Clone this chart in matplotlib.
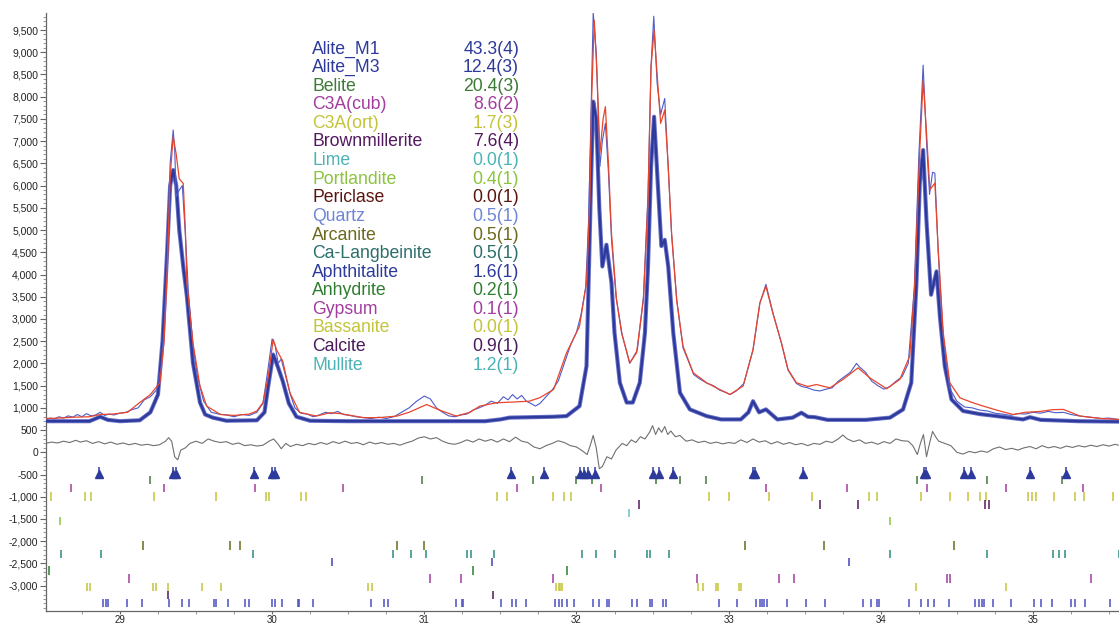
import matplotlib
matplotlib.use('Agg')
import matplotlib.pyplot as plt
from matplotlib.ticker import MultipleLocator, FixedLocator, FuncFormatter

plt.rcParams['font.family'] = ['Liberation Sans', 'DejaVu Sans']

# ---- curves (2theta, counts) ----
obs_x = [28.51, 28.54, 28.57, 28.60, 28.63, 28.66, 28.69, 28.72, 28.75, 28.78, 28.81, 28.84, 28.87, 28.90,
         28.93, 28.96, 29.00, 29.04, 29.08, 29.12, 29.16, 29.20, 29.24, 29.27, 29.29, 29.31, 29.33, 29.35,
         29.36, 29.37, 29.39, 29.41, 29.43, 29.45, 29.48, 29.51, 29.55, 29.60, 29.65, 29.70, 29.75, 29.80,
         29.85, 29.90, 29.94, 29.97, 30.00, 30.02, 30.04, 30.06, 30.09, 30.12, 30.15, 30.19, 30.23, 30.27,
         30.31, 30.35, 30.39, 30.43, 30.47, 30.51, 30.55, 30.60, 30.65, 30.70, 30.75, 30.80, 30.85, 30.90,
         30.95, 31.00, 31.04, 31.08, 31.12, 31.16, 31.20, 31.24, 31.28, 31.32, 31.36, 31.40, 31.44, 31.48,
         31.52, 31.55, 31.58, 31.61, 31.64, 31.67, 31.70, 31.73, 31.76, 31.80, 31.84, 31.88, 31.92, 31.96,
         32.00, 32.03, 32.06, 32.08, 32.095, 32.11, 32.13, 32.154, 32.17, 32.19, 32.21, 32.23, 32.26, 32.30,
         32.35, 32.40, 32.44, 32.47, 32.49, 32.508, 32.53, 32.553, 32.58, 32.60, 32.625, 32.66, 32.70, 32.73,
         32.77, 32.81, 32.86, 32.90, 32.94, 32.98, 33.01, 33.05, 33.10, 33.16, 33.205, 33.245, 33.29, 33.347,
         33.39, 33.445, 33.48, 33.52, 33.56, 33.60, 33.64, 33.68, 33.72, 33.76, 33.80, 33.84, 33.86, 33.90,
         33.94, 33.98, 34.02, 34.06, 34.10, 34.14, 34.18, 34.22, 34.25, 34.278, 34.30, 34.32, 34.34, 34.355,
         34.377, 34.41, 34.45, 34.50, 34.55, 34.60, 34.65, 34.70, 34.75, 34.80, 34.85, 34.90, 34.95, 35.00,
         35.05, 35.10, 35.15, 35.20, 35.25, 35.30, 35.35, 35.40, 35.45, 35.50, 35.56]
obs_y = [720, 770, 750, 800, 770, 820, 790, 850, 800, 870, 820, 840, 900, 830,
         860, 840, 880, 900, 960, 1000, 1180, 1250, 1400, 1900, 2800, 4300, 6500, 7250,
         6800, 5750, 5900, 6000, 4900, 3600, 2400, 1700, 1150, 900, 860, 840, 800, 850,
         830, 900, 1100, 1800, 2550, 2400, 2000, 2100, 1700, 1300, 1000, 880, 860, 800,
         840, 900, 870, 920, 850, 830, 800, 780, 760, 790, 760, 800, 900, 1000,
         1150, 1265, 1200, 1000, 900, 820, 800, 840, 860, 950, 1000, 1060, 1150, 1100,
         1250, 1180, 1300, 1200, 1280, 1150, 1100, 1040, 1100, 1250, 1400, 1600, 2000, 2400,
         2700, 3100, 3700, 5200, 7500, 9890, 9000, 6430, 7000, 7400, 6300, 4800, 3500, 2650,
         2000, 2300, 3500, 5800, 8700, 9810, 8300, 7600, 7960, 6600, 4900, 3400, 2350, 2100,
         1750, 1650, 1550, 1500, 1400, 1350, 1300, 1380, 1550, 2300, 3350, 3780, 3150, 2450,
         1850, 1550, 1480, 1450, 1400, 1380, 1420, 1450, 1600, 1700, 1800, 2000, 1920, 1800,
         1600, 1500, 1420, 1480, 1600, 1700, 2000, 3700, 6700, 8710, 7000, 5800, 6300, 6280,
         4500, 2600, 1450, 1150, 1020, 1000, 950, 930, 880, 860, 830, 870, 860, 900,
         880, 920, 890, 900, 850, 820, 800, 780, 760, 770, 740]

calc_x = [28.51, 28.60, 28.70, 28.80, 28.87, 28.95, 29.05, 29.13, 29.20, 29.263, 29.29, 29.31, 29.33, 29.35,
          29.37, 29.39, 29.416, 29.43, 29.44, 29.48, 29.526, 29.57, 29.66, 29.75, 29.85, 29.90, 29.94, 29.975,
          30.007, 30.03, 30.07, 30.117, 30.18, 30.29, 30.38, 30.45, 30.60, 30.70, 30.82, 30.90, 31.015, 31.10,
          31.21, 31.30, 31.365, 31.475, 31.58, 31.69, 31.76, 31.85, 31.935, 32.02, 32.066, 32.088, 32.10, 32.117,
          32.135, 32.154, 32.175, 32.19, 32.21, 32.23, 32.263, 32.296, 32.35, 32.395, 32.44, 32.47, 32.49, 32.51,
          32.53, 32.553, 32.58, 32.603, 32.625, 32.658, 32.70, 32.767, 32.855, 32.94, 33.008, 33.095, 33.16, 33.205,
          33.245, 33.29, 33.347, 33.39, 33.445, 33.52, 33.577, 33.665, 33.752, 33.85, 33.928, 34.038, 34.125, 34.19,
          34.223, 34.256, 34.278, 34.30, 34.322, 34.355, 34.377, 34.41, 34.453, 34.52, 34.60, 34.673, 34.77, 34.87,
          34.95, 35.05, 35.13, 35.20, 35.31, 35.45, 35.56]
calc_y = [760, 770, 790, 800, 850, 860, 900, 1120, 1300, 1565, 2500, 4000, 6200, 7100,
          6700, 6150, 6050, 5000, 3800, 2460, 1490, 1040, 850, 830, 860, 930, 1120, 1710,
          2540, 2300, 2050, 1340, 900, 815, 890, 870, 780, 780, 815, 900, 1075, 950,
          815, 900, 1040, 1115, 1130, 1150, 1230, 1415, 2240, 2835, 3815, 5680, 8000, 9720,
          8500, 6730, 7500, 7775, 6500, 4935, 3435, 2690, 2010, 2240, 3435, 5680, 8670, 9500,
          8500, 7400, 7700, 6430, 4935, 3435, 2390, 1790, 1565, 1415, 1300, 1490, 2310, 3360,
          3735, 3135, 2460, 1865, 1565, 1480, 1525, 1450, 1640, 1900, 1675, 1430, 1640, 2165,
          3810, 6800, 8375, 7200, 5905, 6055, 4560, 2690, 1565, 1225, 1120, 1040, 940, 850,
          900, 920, 960, 965, 815, 760, 740]

alite_x = [28.51, 28.80, 28.87, 28.92, 29.00, 29.13, 29.20, 29.25, 29.28, 29.31, 29.33, 29.35, 29.37, 29.39,
           29.416, 29.44, 29.48, 29.526, 29.56, 29.61, 29.70, 29.90, 29.95, 29.975, 30.007, 30.04, 30.07, 30.11,
           30.16, 30.25, 30.50, 31.00, 31.40, 31.50, 31.56, 31.70, 31.85, 31.935, 32.02, 32.066, 32.077, 32.095,
           32.11, 32.13, 32.15, 32.17, 32.197, 32.215, 32.23, 32.25, 32.285, 32.33, 32.37, 32.416, 32.45, 32.47,
           32.49, 32.51, 32.535, 32.558, 32.58, 32.603, 32.636, 32.68, 32.745, 32.855, 32.95, 33.08, 33.13, 33.16,
           33.20, 33.245, 33.32, 33.42, 33.478, 33.52, 33.567, 33.65, 33.90, 34.06, 34.146, 34.20, 34.234, 34.256,
           34.278, 34.30, 34.33, 34.366, 34.388, 34.42, 34.464, 34.54, 34.65, 34.76, 34.935, 34.98, 35.05, 35.30,
           35.56]
alite_y = [700, 700, 800, 730, 700, 720, 900, 1300, 2500, 4500, 6000, 6350, 6000, 5000,
           4180, 3510, 2010, 1120, 850, 780, 710, 720, 900, 1500, 2200, 1900, 1600, 1100,
           800, 710, 700, 700, 700, 740, 780, 790, 800, 815, 1040, 1940, 3435, 6000,
           7890, 7500, 5500, 4180, 4670, 4200, 3815, 2690, 1565, 1120, 1120, 1565, 2690, 4180,
           6430, 7550, 6000, 4640, 4780, 4180, 2690, 1340, 965, 815, 740, 740, 900, 1150,
           900, 965, 740, 780, 890, 800, 790, 730, 730, 780, 965, 1565, 3810, 6055,
           6800, 5200, 3545, 4070, 3060, 1940, 1190, 930, 860, 815, 740, 790, 730, 700,
           690]

diff_x = [28.51, 28.55, 28.59, 28.63, 28.67, 28.71, 28.74, 28.78, 28.82, 28.86, 28.90, 28.94, 28.98, 29.02,
          29.06, 29.10, 29.14, 29.18, 29.22, 29.26, 29.30, 29.32, 29.34, 29.36, 29.38, 29.40, 29.43, 29.46,
          29.50, 29.54, 29.58, 29.62, 29.66, 29.70, 29.74, 29.78, 29.82, 29.86, 29.90, 29.94, 29.98, 30.01,
          30.04, 30.06, 30.09, 30.12, 30.16, 30.20, 30.24, 30.28, 30.32, 30.36, 30.40, 30.44, 30.48, 30.52,
          30.56, 30.60, 30.64, 30.68, 30.72, 30.76, 30.80, 30.84, 30.88, 30.92, 30.96, 31.00, 31.04, 31.08,
          31.12, 31.16, 31.20, 31.24, 31.28, 31.32, 31.36, 31.40, 31.44, 31.48, 31.52, 31.56, 31.60, 31.64,
          31.68, 31.72, 31.76, 31.80, 31.84, 31.88, 31.92, 31.96, 32.00, 32.04, 32.07, 32.09, 32.11, 32.13,
          32.15, 32.17, 32.20, 32.23, 32.26, 32.30, 32.33, 32.36, 32.39, 32.42, 32.45, 32.48, 32.50, 32.52,
          32.54, 32.56, 32.58, 32.60, 32.62, 32.65, 32.68, 32.72, 32.76, 32.80, 32.84, 32.88, 32.92, 32.96,
          33.00, 33.04, 33.08, 33.12, 33.16, 33.20, 33.24, 33.28, 33.32, 33.36, 33.40, 33.44, 33.48, 33.52,
          33.56, 33.60, 33.64, 33.68, 33.72, 33.75, 33.78, 33.82, 33.86, 33.90, 33.94, 33.98, 34.02, 34.06,
          34.10, 34.14, 34.18, 34.21, 34.24, 34.26, 34.28, 34.30, 34.32, 34.34, 34.36, 34.38, 34.42, 34.46,
          34.50, 34.54, 34.58, 34.62, 34.66, 34.70, 34.74, 34.78, 34.82, 34.86, 34.90, 34.94, 34.98, 35.02,
          35.06, 35.10, 35.14, 35.18, 35.22, 35.26, 35.30, 35.34, 35.38, 35.42, 35.46, 35.50, 35.54, 35.56]
diff_y = [200, 230, 210, 250, 220, 270, 230, 260, 200, 240, 190, 230, 180, 210,
          170, 200, 160, 180, 150, 170, 250, 330, 250, -100, -170, 50, 100, 200,
          250, 200, 300, 250, 220, 240, 180, 210, 150, 170, 140, 160, 250, 300,
          180, 80, 200, 130, 180, 150, 200, 170, 220, 180, 240, 200, 250, 200,
          220, 170, 230, 190, 220, 180, 200, 160, 210, 250, 320, 350, 300, 330,
          250, 200, 180, 220, 280, 230, 300, 250, 290, 230, 300, 240, 340, 250,
          220, 120, 80, 150, 200, 260, 220, 150, 120, 30, -50, 150, 380, 100,
          -370, -320, -100, -150, 50, 200, 150, 280, 220, 350, 300, 450, 600, 400,
          550, 450, 580, 400, 480, 350, 380, 250, 280, 220, 250, 200, 230, 190,
          220, 200, 280, 220, 300, 230, 260, 190, 240, 180, 220, 170, 200, 150,
          200, 180, 250, 220, 300, 390, 300, 240, 280, 200, 230, 180, 240, 200,
          300, 260, 250, 150, -50, 200, 400, -100, 200, 470, 350, 250, 200, 150,
          0, -40, 20, -10, 30, 0, 80, 120, 60, 90, 50, 100, 130, 80,
          150, 100, 130, 90, 140, 110, 150, 120, 160, 130, 170, 140, 180, 160]

# ---- phase table (legend) ----
phase_names = ['Alite_M1', 'Alite_M3', 'Belite', 'C3A(cub)', 'C3A(ort)', 'Brownmillerite', 'Lime',
               'Portlandite', 'Periclase', 'Quartz', 'Arcanite', 'Ca-Langbeinite', 'Aphthitalite',
               'Anhydrite', 'Gypsum', 'Bassanite', 'Calcite', 'Mullite']
phase_values = ['43.3(4)', '12.4(3)', '20.4(3)', '8.6(2)', '1.7(3)', '7.6(4)', '0.0(1)', '0.4(1)',
                '0.0(1)', '0.5(1)', '0.5(1)', '0.5(1)', '1.6(1)', '0.2(1)', '0.1(1)', '0.0(1)',
                '0.9(1)', '1.2(1)']
phase_colors = ['#2d3a9c', '#2d3a9c', '#3d7a35', '#a23d9e', '#c3c43a', '#53195f', '#4bb3b5',
                '#8cc43f', '#5a1410', '#6f86d6', '#6b6a1c', '#2b6f6a', '#2d3a9c', '#2f7d2f',
                '#a23d9e', '#c3c43a', '#4b1a5a', '#4bb3b5']

# ---- reflection positions (tick rows) ----
alite_m1_refl = [28.863, 29.347, 29.370, 29.884, 30.002, 30.021, 31.571, 31.788, 32.02, 32.05, 32.075,
                 32.125, 32.505, 32.54, 32.637, 33.16, 33.17, 33.49, 34.283, 34.297, 34.546, 34.593,
                 34.98, 35.22]
belite_refl = [29.196, 30.986, 31.717, 32.0, 32.099, 32.524, 32.682, 32.851, 34.24, 34.70, 35.19]
c3a_cub_refl = [28.68, 29.292, 29.887, 30.469, 31.608, 32.16, 33.246, 33.775, 34.302, 34.82, 35.33]
c3a_ort_refl = [28.547, 28.771, 28.809, 29.226, 29.63, 29.958, 29.981, 30.189, 30.226, 31.476, 31.542,
                31.849, 31.92, 31.965, 32.872, 33.004, 33.263, 33.545, 33.919, 33.977, 34.264, 34.452,
                34.57, 34.652, 34.692, 34.97, 34.993, 35.017, 35.139, 35.275, 35.336, 35.527]
brownm_refl = [32.411, 33.599, 33.853, 34.687, 34.711]
lime_refl = [32.343]
portl_refl = [28.604, 34.057]
periclase_refl = []
quartz_refl = []
arcanite_refl = [29.153, 29.726, 29.788, 30.823, 30.995, 33.11, 33.625, 34.483]
calang_refl = [28.611, 28.873, 29.873, 30.792, 30.91, 31.009, 31.281, 31.307, 31.455, 32.038, 32.127,
               32.254, 32.463, 32.482, 32.611, 34.057, 34.697, 35.134, 35.174, 35.207, 35.562]
aphth_refl = [30.392, 31.443, 33.794]
anhydrite_refl = [28.531, 31.318, 31.941]
gypsum_refl = [29.057, 31.035, 31.241, 31.849, 32.79, 33.328, 33.432, 34.436, 34.452, 35.381]
bassanite_refl = [28.783, 28.804, 29.219, 29.238, 29.316, 29.542, 29.663, 30.632, 30.656, 31.866,
                  31.882, 31.89, 31.908, 32.80, 32.83, 32.919, 32.933, 33.067, 33.084, 34.231, 34.824]
calcite_refl = [29.316, 31.453]
alite_m3_refl = [28.887, 28.906, 28.922, 29.047, 29.146, 29.321, 29.41, 29.455, 29.618, 29.63, 29.708,
                 29.825, 29.849, 30.002, 30.019, 30.068, 30.17, 30.177, 30.269, 30.651, 30.733, 30.759,
                 31.21, 31.245, 31.252, 31.505, 31.578, 31.601, 31.67, 31.858, 31.882, 31.904, 31.941,
                 31.984, 32.106, 32.148, 32.2, 32.216, 32.362, 32.4, 32.482, 32.496, 32.571, 32.59,
                 32.938, 33.058, 33.18, 33.204, 33.218, 33.232, 33.253, 33.385, 33.507, 33.634, 33.883,
                 33.935, 33.977, 33.987, 34.182, 34.264, 34.311, 34.349, 34.448, 34.622, 34.645, 34.664,
                 34.678, 34.735, 34.857, 35.005, 35.05, 35.128, 35.252, 35.276, 35.339, 35.506]

tick_rows = [belite_refl, c3a_cub_refl, c3a_ort_refl, brownm_refl, lime_refl, portl_refl,
             periclase_refl, quartz_refl, arcanite_refl, calang_refl, aphth_refl, anhydrite_refl,
             gypsum_refl, bassanite_refl, calcite_refl, alite_m3_refl]
tick_colors = ['#3d7a35', '#a23d9e', '#c3c43a', '#53195f', '#6cc0c2', '#8cc43f', '#5a1410', '#6f86d6',
               '#6b6a1c', '#2b8a84', '#3a45b8', '#2f7d2f', '#a23d9e', '#c3c43a', '#4b1a5a', '#4a50c4']

fig = plt.figure(figsize=(11.19, 6.25), dpi=100)
ax = fig.add_axes([0.0408, 0.0224, 0.9592, 0.9566])

ax.plot(alite_x, alite_y, color='#6a72c8', lw=3.0, solid_joinstyle='round', zorder=2)
ax.plot(alite_x, alite_y, color='#2d3a9c', lw=1.7, solid_joinstyle='round', zorder=3)
ax.plot(obs_x, obs_y, color='#4d5cc8', lw=0.8, zorder=4)
ax.plot(calc_x, calc_y, color='#e8452c', lw=0.9, zorder=5)
ax.plot(diff_x, diff_y, color='#707070', lw=0.8, zorder=4)

# Alite_M1 reflections as spiked triangles
ax.vlines(alite_m1_refl, -470, -330, color='#2d3a9c', lw=1.1, zorder=4)
ax.plot(alite_m1_refl, [-480] * len(alite_m1_refl), ls='none', marker='^', ms=6,
        color='#2d3a9c', mec='#2d3a9c', zorder=4)

for i, (refl, col) in enumerate(zip(tick_rows, tick_colors)):
    yc = -620 - 185 * i
    ax.vlines(refl, yc - 95, yc + 95, color=col, lw=1.1)

ax.set_xlim(28.512, 35.565)
ax.set_ylim(-3570, 9880)
ax.xaxis.set_major_locator(MultipleLocator(1))
ax.xaxis.set_minor_locator(MultipleLocator(0.25))
ax.yaxis.set_major_locator(FixedLocator(list(range(-3000, 10000, 500))))
ax.yaxis.set_minor_locator(MultipleLocator(100))
ax.yaxis.set_major_formatter(FuncFormatter(lambda v, p: f'{v:,.0f}'))
ax.xaxis.set_major_formatter(FuncFormatter(lambda v, p: f'{v:.0f}'))
for s in ['top', 'right']:
    ax.spines[s].set_visible(False)
for s in ['left', 'bottom']:
    ax.spines[s].set_color('#666666')
    ax.spines[s].set_linewidth(0.9)
ax.tick_params(axis='y', which='major', length=4, width=0.8, color='#666666',
               labelsize=7.5, labelcolor='#222222', pad=1.5)
ax.tick_params(axis='x', which='major', length=2.5, width=0.8, color='#666666',
               labelsize=7, labelcolor='#222222', pad=0.3)
ax.tick_params(axis='both', which='minor', length=2, width=0.6, color='#888888')

# phase amounts
for i, (nm, val, col) in enumerate(zip(phase_names, phase_values, phase_colors)):
    yy = 1 - (53.5 + 18.6 * i) / 625
    fig.text(312 / 1119, yy, nm, color=col, fontsize=12.7, va='baseline', ha='left')
    fig.text(519 / 1119, yy, val, color=col, fontsize=12.7, va='baseline', ha='right')

fig.savefig('out.png', dpi=100, facecolor='white')
